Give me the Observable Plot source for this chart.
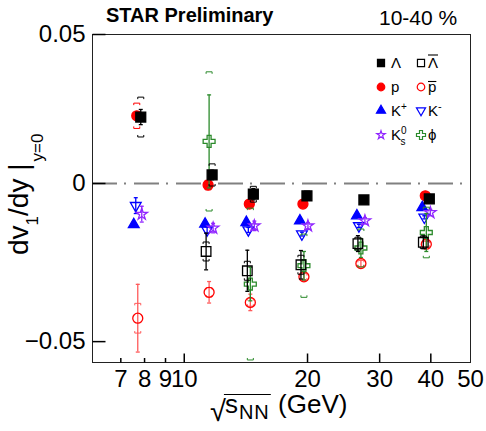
<!DOCTYPE html>
<html><head><meta charset="utf-8">
<script src="https://cdn.jsdelivr.net/npm/d3@7"></script>
<script src="https://cdn.jsdelivr.net/npm/@observablehq/plot@0.6"></script>
<style>body{margin:0;background:#fff} svg{display:block}</style>
</head><body><div id="chart"></div>
<script>
// ---- data (dv1/dy at y=0 vs collision energy, 10-40%) ----
const lambdaE = [7.7, 11.5, 14.5, 19.6, 27, 39];
const lambdaV = [0.0210, 0.0027, -0.0034, -0.0039, -0.0052, -0.0049];
const lambdaStat = [0.0024, 0.0015, 0.0018, 0.0010, 0.0008, 0.0008];
const lambdaSys = [0.0063, 0.0035, 0.0025, 0.0015, 0.0012, 0.0012];

const antiLambdaE = [11.5, 14.5, 19.6, 27, 39];
const antiLambdaV = [-0.0215, -0.0276, -0.0257, -0.0190, -0.0186];
const antiLambdaStat = [0.0058, 0.0065, 0.0045, 0.0025, 0.0020];
const antiLambdaSys = [0.0030, 0.0030, 0.0030, 0.0020, 0.0020];

const protonE = [7.7, 11.5, 14.5, 19.6, 39];
const protonV = [0.0214, -0.0005, -0.0065, -0.0065, -0.0039];
const protonStat = [0.0006, 0.0006, 0.0006, 0.0004, 0.0004];
const protonSys = [0.0040, 0.0015, 0.0012, 0.0010, 0.0008];

const antiProtonE = [7.7, 11.5, 14.5, 19.6, 27, 39];
const antiProtonV = [-0.0426, -0.0344, -0.0376, -0.0295, -0.0253, -0.0192];
const antiProtonStat = [0.0107, 0.0034, 0.0026, 0.0012, 0.0010, 0.0010];
const antiProtonSys = [0.0047, 0.0015, 0.0012, 0.0010, 0.0010, 0.0010];

const kPlusE = [7.7, 11.5, 14.5, 19.6, 27, 39];
const kPlusV = [-0.0130, -0.0128, -0.0123, -0.0118, -0.0102, -0.0076];
const kPlusStat = [0.0008, 0.0005, 0.0005, 0.0004, 0.0003, 0.0003];
const kPlusSys = [0, 0, 0, 0, 0, 0];

const kMinusE = [7.7, 11.5, 14.5, 19.6, 27, 39];
const kMinusV = [-0.0070, -0.0147, -0.0147, -0.0160, -0.0134, -0.0107];
const kMinusStat = [0.0025, 0.0010, 0.0008, 0.0006, 0.0005, 0.0005];
const kMinusSys = [0, 0, 0, 0, 0, 0];

const k0sE = [7.7, 11.5, 14.5, 19.6, 27, 39];
const k0sV = [-0.0097, -0.0141, -0.0134, -0.0134, -0.0118, -0.0092];
const k0sStat = [0.0025, 0.0015, 0.0015, 0.0010, 0.0010, 0.0010];
const k0sSys = [0, 0, 0, 0, 0, 0];

const phiE = [11.5, 14.5, 19.6, 27, 39];
const phiV = [0.0133, -0.0318, -0.0260, -0.0204, -0.0155];
const phiStat = [0.0147, 0.0053, 0.0045, 0.0030, 0.0060];
const phiSys = [0.0220, 0.0240, 0.0100, 0.0060, 0.0080];

const xTickValues = [7, 8, 9, 10, 20, 30, 40, 50];
const xMinorTicks = [7, 8, 9];
const xMajorTicks = [10, 20, 30, 40];
const yTickValues = [-0.05, 0, 0.0471];
const yTickLabels = ["\u22120.05", "0", "0.05"];

// ---- custom symbols ----
const SQ3 = Math.sqrt(3);
const triDown = {draw(c, size) {
  const y = Math.sqrt(size / (SQ3 * 3));
  c.moveTo(0, y * 2); c.lineTo(-SQ3 * y, -y); c.lineTo(SQ3 * y, -y); c.closePath();
}};
const hline = w => ({draw(c) { c.moveTo(-w, 0); c.lineTo(w, 0); }});
const sysTop = {draw(c) { c.moveTo(-3, 2); c.lineTo(-3, 0); c.lineTo(3, 0); c.lineTo(3, 2); }};
const sysBot = {draw(c) { c.moveTo(-3, -2); c.lineTo(-3, 0); c.lineTo(3, 0); c.lineTo(3, -2); }};
const tickRight = len => ({draw(c) { c.moveTo(0, 0); c.lineTo(len, 0); }});
const tickUp = len => ({draw(c) { c.moveTo(0, 0); c.lineTo(0, -len); }});

const RED = "#ff0000", BLUE = "#0000ff", VIOLET = "#9126ff", GREEN = "#2b8a2b";

const species = [
  {key: "p", E: protonE, V: protonV, stat: protonStat, sys: protonSys,
   symbol: d3.symbolCircle, r: 5, fill: RED, stroke: RED, err: RED, shift: -1},
  {key: "pbar", E: antiProtonE, V: antiProtonV, stat: antiProtonStat, sys: antiProtonSys,
   symbol: d3.symbolCircle, r: 5, fill: "none", stroke: RED, err: "#ff5a5a", shift: 0},
  {key: "kplus", E: kPlusE, V: kPlusV, stat: kPlusStat, sys: kPlusSys,
   symbol: d3.symbolTriangle, r: 4, fill: BLUE, stroke: BLUE, err: BLUE, shift: -4},
  {key: "kminus", E: kMinusE, V: kMinusV, stat: kMinusStat, sys: kMinusSys,
   symbol: triDown, r: 4, fill: "none", stroke: BLUE, err: BLUE, shift: -2},
  {key: "k0s", E: k0sE, V: k0sV, stat: k0sStat, sys: k0sSys,
   symbol: d3.symbolStar, r: 3.6, fill: "none", stroke: VIOLET, err: VIOLET, shift: 4},
  {key: "phi", E: phiE, V: phiV, stat: phiStat, sys: phiSys,
   symbol: d3.symbolCross, r: 5, fill: "none", stroke: GREEN, err: GREEN, shift: 0},
  {key: "lambda", E: lambdaE, V: lambdaV, stat: lambdaStat, sys: lambdaSys,
   symbol: d3.symbolSquare, r: 5.6, fill: "black", stroke: "black", err: "black", shift: 3},
  {key: "antilambda", E: antiLambdaE, V: antiLambdaV, stat: antiLambdaStat, sys: antiLambdaSys,
   symbol: d3.symbolSquare, r: 5.4, fill: "none", stroke: "black", err: "black", shift: -3}
];

const PX_PER_DECADE = 409.6;
function marksFor(s) {
  const rows = s.E.map((e, i) => ({e, v: s.V[i], stat: s.stat[i], sys: s.sys[i]}));
  const f = Math.pow(10, s.shift / PX_PER_DECADE);
  const X = d => d.e * f;
  const sysRows = rows.filter(d => d.sys > 0);
  return [
    Plot.ruleX(rows, {x: X, y1: d => d.v - d.stat, y2: d => d.v + d.stat, stroke: s.err, strokeWidth: 1.3}),
    Plot.dot(rows, {x: X, y: d => d.v + d.stat, symbol: hline(2), fill: "none", stroke: s.err, strokeWidth: 1.3}),
    Plot.dot(rows, {x: X, y: d => d.v - d.stat, symbol: hline(2), fill: "none", stroke: s.err, strokeWidth: 1.3}),
    Plot.dot(sysRows, {x: X, y: d => d.v + d.sys, symbol: sysTop, fill: "none", stroke: s.err, strokeWidth: 1}),
    Plot.dot(sysRows, {x: X, y: d => d.v - d.sys, symbol: sysBot, fill: "none", stroke: s.err, strokeWidth: 1}),
    Plot.dot(rows, {x: X, y: "v", symbol: s.symbol, r: s.r, fill: s.fill, stroke: s.stroke, strokeWidth: 1.3})
  ];
}

const chart = Plot.plot({
  width: 486, height: 431,
  marginLeft: 92, marginRight: 16, marginTop: 34, marginBottom: 69,
  x: {type: "log", domain: [5.97, 50]},
  y: {domain: [-0.0566, 0.0471]},
  style: {fontFamily: "'Liberation Sans', Arial, sans-serif", background: "white", color: "black"},
  marks: [
    Plot.ruleY([0], {stroke: "#808080", strokeWidth: 2, strokeDasharray: "25,7,2,8"}),
    ...species.flatMap(marksFor),
    Plot.frame({stroke: "#222", strokeWidth: 1}),
    Plot.dot(yTickValues, {y: d => d, frameAnchor: "left", symbol: tickRight(13), fill: "none", stroke: "black"}),
    Plot.dot(xMinorTicks, {x: d => d, frameAnchor: "bottom", symbol: tickUp(4.5), fill: "none", stroke: "black"}),
    Plot.dot(xMajorTicks, {x: d => d, frameAnchor: "bottom", symbol: tickUp(9), fill: "none", stroke: "black"}),
    Plot.axisX({ticks: xTickValues, tickFormat: d => String(d), tickSize: 0, tickPadding: 7, fontSize: 24, label: null}),
    Plot.axisY({ticks: yTickValues, tickFormat: d => yTickLabels[yTickValues.indexOf(d)], tickSize: 0, tickPadding: 7, fontSize: 24, label: null})
  ]
});
document.getElementById("chart").appendChild(chart);

// ---- annotations, titles, legend ----
const svg = d3.select(chart);
const FONT = "'Liberation Sans', Arial, sans-serif";
const ann = svg.append("g").attr("font-family", FONT).attr("fill", "black").attr("text-anchor", "start");

ann.append("text").attr("x", 106).attr("y", 22).attr("font-size", 20).attr("font-weight", "bold").text("STAR Preliminary");
ann.append("text").attr("x", 379).attr("y", 25).attr("font-size", 21).text("10-40 %");

// x title (single text: radical, s, subscript NN, unit)
const xt = ann.append("text").attr("x", 210).attr("y", 413).attr("font-size", 26);
xt.append("tspan").attr("font-size", 29).attr("dy", 8).text("\u221A");
xt.append("tspan").attr("dy", -8).attr("dx", -1).text("s");
xt.append("tspan").attr("font-size", 20).attr("dy", 6).attr("dx", 1).attr("letter-spacing", 1).text("NN");
xt.append("tspan").attr("dy", -6).attr("dx", 1).text(" (GeV)");
{
  const node = xt.node();
  const x1 = node.getStartPositionOfChar(1).x - 1;
  const x2 = node.getEndPositionOfChar(3).x + 1;
  ann.append("line").attr("x1", x1).attr("x2", x2).attr("y1", 394.5).attr("y2", 394.5)
     .attr("stroke", "black").attr("stroke-width", 1.2);
}

// y title
const yt = ann.append("text").attr("transform", "translate(28,255) rotate(-90)").attr("font-size", 28);
yt.append("tspan").text("dv");
yt.append("tspan").attr("font-size", 17).attr("dy", 10).text("1");
yt.append("tspan").attr("dy", -10).text("/dy ");
yt.append("tspan").text("|");
yt.append("tspan").attr("font-size", 17).attr("dy", 15).attr("dx", 2).text("y=0");

// legend
const legendRows = [["lambda", "antilambda"], ["p", "pbar"], ["kplus", "kminus"], ["k0s", "phi"]];
const legendLabels = {
  lambda: [{t: "\u039B"}], antilambda: [{t: "\u039B"}],
  p: [{t: "p"}], pbar: [{t: "p"}],
  kplus: [{t: "K"}, {t: "+", size: 10, dy: -6}],
  kminus: [{t: "K"}, {t: "-", size: 11, dy: -6}],
  k0s: [{t: "K"}, {t: "0", size: 10, dy: -6}, {t: "s", size: 10, dy: 11, dx: -6}],
  phi: [{t: "\u03D5"}]
};
const legendOverline = {antilambda: 13, pbar: 10.5};
const legendSize = {lambda: 50, antilambda: 50, p: 45, pbar: 45, kplus: 36, kminus: 36, k0s: 22, phi: 45};
const rowY = [63, 87, 110.5, 135];
const colMarkX = [381, 421], colTextX = [391, 428];
const byKey = Object.fromEntries(species.map(s => [s.key, s]));
legendRows.forEach((row, ri) => row.forEach((key, ci) => {
  const s = byKey[key];
  const y = rowY[ri];
  svg.append("path")
    .attr("d", d3.symbol(s.symbol, legendSize[key])())
    .attr("transform", `translate(${colMarkX[ci]},${y})`)
    .attr("fill", s.fill).attr("stroke", s.stroke).attr("stroke-width", 1.2);
  const t = ann.append("text").attr("x", colTextX[ci]).attr("y", y + 5).attr("font-size", 15);
  legendLabels[key].forEach(p => {
    const ts = t.append("tspan").text(p.t);
    if (p.size) ts.attr("font-size", p.size);
    if (p.dy) ts.attr("dy", p.dy);
    if (p.dx) ts.attr("dx", p.dx);
  });
  if (legendOverline[key]) {
    const w = t.node().getComputedTextLength();
    ann.append("line").attr("x1", colTextX[ci]).attr("x2", colTextX[ci] + w)
      .attr("y1", y + 5 - legendOverline[key]).attr("y2", y + 5 - legendOverline[key])
      .attr("stroke", "black").attr("stroke-width", 1.1);
  }
}));
</script>
</body></html>
